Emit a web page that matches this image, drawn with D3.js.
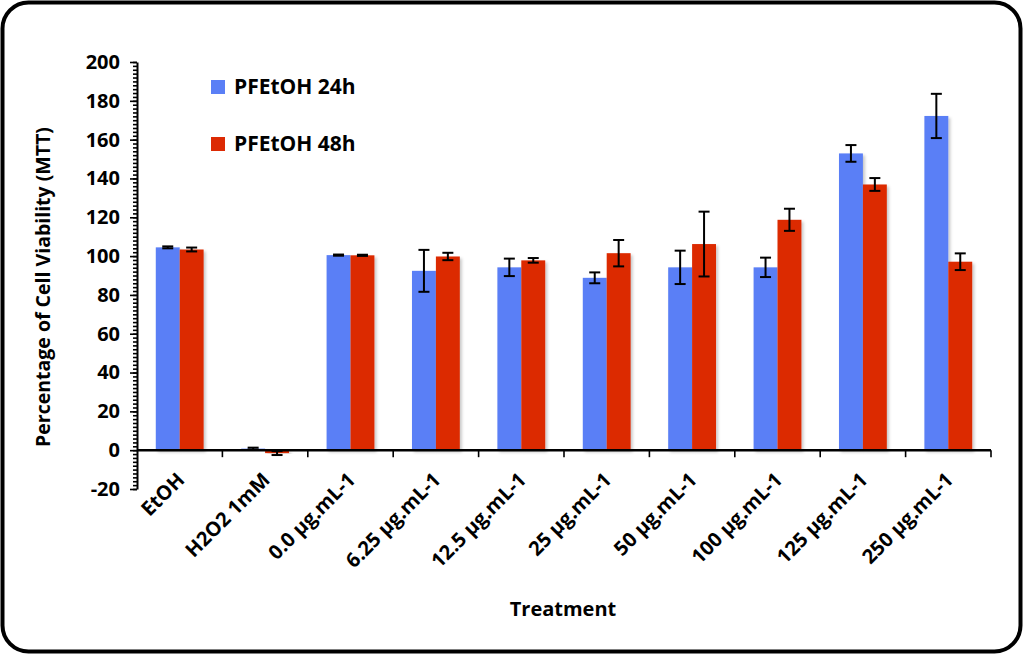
<!DOCTYPE html>
<html>
<head>
<meta charset="utf-8">
<script src="https://cdn.jsdelivr.net/npm/d3@7"></script>
<style>
  body { margin: 0; background: #fff; }
  svg { display: block; font-family: "Open Sans", sans-serif; font-weight: 700; }
</style>
</head>
<body>
<svg id="chart" width="1024" height="655"></svg>
<script>
// Chart data
const categories = ["EtOH", "H2O2 1mM", "0.0 µg.mL-1", "6.25 µg.mL-1", "12.5 µg.mL-1",
  "25 µg.mL-1", "50 µg.mL-1", "100 µg.mL-1", "125 µg.mL-1", "250 µg.mL-1"];
const seriesNames = ["PFEtOH 24h", "PFEtOH 48h"];
const values24 = [104.5, 0.8, 100.5, 92.4, 94.2, 88.8, 94.2, 94.2, 152.9, 172.2];
const errors24 = [0.5, 0.5, 0.3, 10.8, 4.5, 2.8, 8.6, 5.0, 4.3, 11.4];
const values48 = [103.4, -1.5, 100.4, 99.8, 97.8, 101.5, 106.2, 118.7, 136.9, 97.1];
const errors48 = [1.0, 1.0, 0.3, 1.9, 1.2, 6.8, 16.7, 5.7, 3.3, 4.3];
const yTicks = [-20, 0, 20, 40, 60, 80, 100, 120, 140, 160, 180, 200];

const colours = ["#5a7ff6", "#dc2a04"];

// Layout
const margin = {top: 62, left: 137, right: 33, bottom: 166};
const width = 1024, height = 655;
const svg = d3.select("#chart");

// Rounded frame
svg.append("rect")
  .attr("x", 2.5).attr("y", 2.5)
  .attr("width", 1018).attr("height", 649)
  .attr("rx", 26).attr("ry", 26)
  .attr("fill", "#fff")
  .attr("stroke", "#000")
  .attr("stroke-width", 4);

// Soft shadow for bars
const defs = svg.append("defs");
const filt = defs.append("filter").attr("id", "shadow")
  .attr("x", "-20%").attr("y", "-5%").attr("width", "150%").attr("height", "120%");
filt.append("feDropShadow")
  .attr("dx", 2).attr("dy", 2).attr("stdDeviation", 1.8)
  .attr("flood-color", "#000").attr("flood-opacity", 0.22);

const x = d3.scaleBand()
  .domain(categories)
  .range([margin.left, width - margin.right])
  .paddingInner(0.44)
  .paddingOuter(0.22);
const xSub = d3.scaleBand()
  .domain([0, 1])
  .range([0, x.bandwidth()]);
const y = d3.scaleLinear()
  .domain([-20, 200])
  .range([489, margin.top]);

// Group boundaries for x ticks
const step = (width - margin.right - margin.left) / categories.length;

// Bars
const rows = categories.map((c, i) => ({
  cat: c,
  vals: [
    {s: 0, v: values24[i], e: errors24[i]},
    {s: 1, v: values48[i], e: errors48[i]},
  ],
}));

const groups = svg.append("g").selectAll("g")
  .data(rows)
  .join("g")
    .attr("transform", d => `translate(${x(d.cat)},0)`);

groups.selectAll("rect")
  .data(d => d.vals)
  .join("rect")
    .attr("x", d => xSub(d.s))
    .attr("width", xSub.bandwidth())
    .attr("y", d => y(Math.max(0, d.v)))
    .attr("height", d => Math.abs(y(d.v) - y(0)))
    .attr("fill", d => colours[d.s])
    .attr("filter", "url(#shadow)");

// Error bars
const err = groups.selectAll("g.err")
  .data(d => d.vals)
  .join("g")
    .attr("class", "err")
    .attr("stroke", "#000")
    .attr("stroke-width", 2);
err.append("line")
  .attr("x1", d => xSub(d.s) + xSub.bandwidth() / 2)
  .attr("x2", d => xSub(d.s) + xSub.bandwidth() / 2)
  .attr("y1", d => y(d.v + d.e))
  .attr("y2", d => y(d.v - d.e));
err.selectAll("line.cap")
  .data(d => [d.v + d.e, d.v - d.e].map(t => ({s: d.s, t})))
  .join("line")
    .attr("class", "cap")
    .attr("x1", d => xSub(d.s) + xSub.bandwidth() / 2 - 5.5)
    .attr("x2", d => xSub(d.s) + xSub.bandwidth() / 2 + 5.5)
    .attr("y1", d => y(d.t))
    .attr("y2", d => y(d.t));

// Y axis: minor ticks every 2 units, major every 20
const yAxisG = svg.append("g").attr("transform", `translate(${margin.left},0)`);
yAxisG.call(d3.axisLeft(y).tickValues(d3.range(-20, 201, 2)).tickSize(4).tickFormat(""))
  .call(g => g.select(".domain").remove());
yAxisG.append("g").call(d3.axisLeft(y).tickValues(yTicks).tickSize(7).tickSizeOuter(0)
    .tickFormat(d => String(d)))
  .call(g => g.selectAll("text")
    .attr("font-size", 20).attr("font-family", "Open Sans").attr("font-weight", 700)
    .attr("fill", "#000").attr("dx", "-7"));
yAxisG.selectAll("line").attr("stroke", "#000").attr("stroke-width", 1.6);
yAxisG.selectAll(".domain").attr("stroke", "#000").attr("stroke-width", 2);

// X axis at zero
const xAxisG = svg.append("g");
xAxisG.append("line")
  .attr("x1", margin.left).attr("x2", width - margin.right)
  .attr("y1", y(0)).attr("y2", y(0))
  .attr("stroke", "#000").attr("stroke-width", 2.5);
xAxisG.selectAll("line.tick")
  .data(d3.range(1, categories.length + 1))
  .join("line")
    .attr("class", "tick")
    .attr("x1", i => margin.left + i * step)
    .attr("x2", i => margin.left + i * step)
    .attr("y1", y(0)).attr("y2", y(0) + 7)
    .attr("stroke", "#000").attr("stroke-width", 1.6);

// Rotated category labels
xAxisG.selectAll("text")
  .data(categories)
  .join("text")
    .attr("transform", d => `translate(${x(d) + x.bandwidth() / 2 + 6},${y(0) + 31}) rotate(-45)`)
    .attr("text-anchor", "end")
    .attr("font-size", 20)
    .text(d => d);

// Axis titles
svg.append("text")
  .attr("x", 563).attr("y", 616)
  .attr("text-anchor", "middle")
  .attr("font-size", 20)
  .text("Treatment");
svg.append("text")
  .attr("transform", "translate(50,287) rotate(-90)")
  .attr("text-anchor", "middle")
  .attr("font-size", 19.5)
  .text("Percentage of Cell Viability (MTT)");

// Legend
const legend = svg.append("g").selectAll("g")
  .data(seriesNames)
  .join("g")
    .attr("transform", (d, i) => `translate(211,${80 + i * 57})`);
legend.append("rect")
  .attr("width", 14).attr("height", 14)
  .attr("fill", (d, i) => colours[i]);
legend.append("text")
  .attr("x", 23).attr("y", 14)
  .attr("font-size", 21)
  .text(d => d);
</script>
</body>
</html>
